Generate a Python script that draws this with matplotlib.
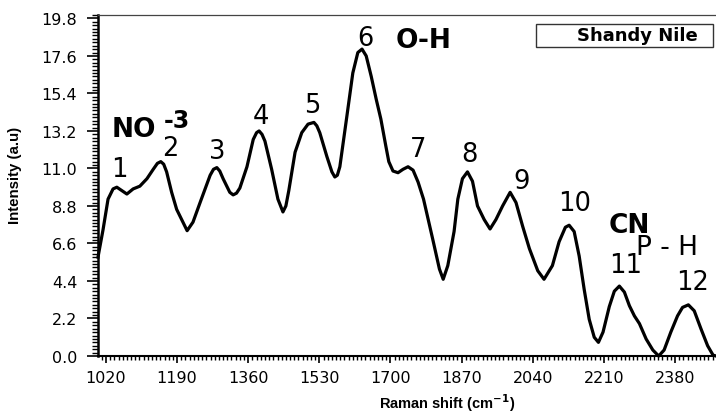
import matplotlib
matplotlib.use("Agg")
import matplotlib.pyplot as plt
from matplotlib.ticker import MultipleLocator, FixedLocator
from matplotlib.patches import Rectangle

# Raman spectrum
shift = [1001, 1013, 1025, 1030, 1037, 1046, 1058, 1070, 1085, 1101, 1118, 1133, 1143, 1151,
         1158, 1165, 1177, 1189, 1201, 1214, 1228, 1245, 1257, 1269, 1277, 1285, 1292, 1300,
         1316, 1324, 1332, 1340, 1357, 1372, 1380, 1386, 1393, 1400, 1416, 1431, 1443, 1450,
         1457, 1472, 1488, 1503, 1517, 1524, 1531, 1548, 1560, 1567, 1573, 1579, 1596, 1610,
         1622, 1632, 1642, 1654, 1666, 1677, 1689, 1696, 1706, 1718, 1730, 1742, 1754, 1766,
         1779, 1801, 1817, 1826, 1837, 1852, 1861, 1872, 1884, 1896, 1908, 1924, 1938, 1952,
         1968, 1986, 2000, 2016, 2032, 2052, 2067, 2087, 2103, 2118, 2127, 2139, 2151, 2163,
         2175, 2187, 2197, 2208, 2223, 2235, 2247, 2259, 2271, 2283, 2295, 2311, 2327, 2341,
         2354, 2370, 2386, 2398, 2412, 2426, 2442, 2458, 2471, 2478]
intensity = [5.8, 7.4, 9.2, 9.45, 9.8, 9.9, 9.7, 9.5, 9.8, 9.96, 10.4, 10.95, 11.3, 11.4,
             11.25, 10.8, 9.6, 8.6, 8.0, 7.35, 7.85, 9.0, 9.8, 10.6, 10.95, 11.05, 10.85, 10.4,
             9.6, 9.45, 9.55, 9.85, 11.1, 12.7, 13.1, 13.2, 13.0, 12.6, 10.95, 9.2, 8.45, 8.8,
             9.7, 11.95, 13.1, 13.6, 13.7, 13.5, 13.1, 11.7, 10.8, 10.5, 10.6, 11.1, 14.1, 16.6,
             17.8, 18.0, 17.6, 16.4, 15.05, 13.9, 12.3, 11.4, 10.85, 10.75, 10.95, 11.1, 10.9, 10.2,
             9.2, 6.85, 5.1, 4.5, 5.3, 7.3, 9.2, 10.4, 10.8, 10.25, 8.8, 8.0, 7.45, 8.0,
             8.8, 9.6, 9.0, 7.6, 6.3, 5.0, 4.5, 5.3, 6.7, 7.55, 7.67, 7.3, 5.86, 3.9,
             2.15, 1.1, 0.8, 1.4, 2.9, 3.8, 4.1, 3.75, 2.95, 2.35, 1.9, 1.0, 0.35, 0.0,
             0.35, 1.4, 2.35, 2.85, 3.0, 2.65, 1.6, 0.6, 0.05, 0.0]

peak_labels = ["1", "2", "3", "4", "5", "6", "7", "8", "9", "10", "11", "12"]
peak_x = [1051, 1173, 1285, 1390, 1512, 1641, 1766, 1888, 2014, 2139, 2263, 2423]
peak_y = [10.57, 11.8, 11.63, 13.68, 14.32, 18.25, 11.75, 11.45, 9.87, 8.55, 4.95, 3.92]

group_labels = ["NO", "O-H", "CN"]
group_x = [1087, 1780, 2272]
group_y = [12.89, 18.1, 7.26]

xticks = [1020, 1190, 1360, 1530, 1700, 1870, 2040, 2210, 2380]
yticks = [0.0, 2.2, 4.4, 6.6, 8.8, 11.0, 13.2, 15.4, 17.6, 19.8]
legend_label = "Shandy Nile"

fig = plt.figure(figsize=(7.16, 4.14), dpi=100)
ax = fig.add_axes([98/716, 1 - 357/414, 1 - 98/716, (357 - 16)/414])

ax.plot(shift, intensity, color="black", lw=2.3, solid_joinstyle="round", clip_on=False)

ax.set_xlim(1001, 2478)
ax.set_ylim(0, 20)
ax.xaxis.set_major_locator(FixedLocator(xticks))
ax.xaxis.set_minor_locator(MultipleLocator(10))
ax.yaxis.set_major_locator(FixedLocator(yticks))
ax.yaxis.set_minor_locator(MultipleLocator(0.2))
ax.set_xticklabels([str(t) for t in xticks])
ax.set_yticklabels([f"{t:.1f}" for t in yticks])
ax.tick_params(axis="both", which="major", direction="out", labelsize=11.5, width=1.2)
ax.tick_params(axis="x", which="major", length=5, pad=5)
ax.tick_params(axis="y", which="major", length=8, pad=7)
ax.tick_params(axis="x", which="minor", direction="out", length=3, width=1.0)
ax.tick_params(axis="y", which="minor", direction="out", length=4, width=1.0)

ax.spines["right"].set_visible(False)
ax.spines["left"].set_linewidth(1.8)
ax.spines["bottom"].set_linewidth(1.5)
ax.spines["top"].set_linewidth(0.9)
ax.spines["top"].set_color("#444444")

for lab, x, y in zip(peak_labels, peak_x, peak_y):
    ax.text(x, y, lab, fontsize=18.5, ha="center", va="baseline")

for lab, x, y in zip(group_labels, group_x, group_y):
    ax.text(x, y, lab, fontsize=19, fontweight="bold", ha="center", va="baseline")
ax.text(1190, 13.42, "-3", fontsize=17, fontweight="bold", ha="center", va="baseline")
ax.text(2361, 5.98, "P - H", fontsize=19, ha="center", va="baseline")

# legend box
lx0 = (536 - 98) / 618
lx1 = (713 - 98) / 618
ly0 = (357 - 48) / 341
ly1 = (357 - 25) / 341
ax.add_patch(Rectangle((lx0, ly0), lx1 - lx0, ly1 - ly0, transform=ax.transAxes,
                       facecolor="white", edgecolor="#333333", lw=1.0, clip_on=False, zorder=5))
ax.text((698 - 98) / 618, (ly0 + ly1) / 2, legend_label, transform=ax.transAxes,
        fontsize=13, fontweight="bold", ha="right", va="center", zorder=6)

ax.set_xlabel("Raman shift (cm$^{\\mathbf{-1}}$)", fontsize=10.5, fontweight="bold",
              family=["Liberation Sans", "DejaVu Sans"])
ax.xaxis.label.set_va("baseline")
ax.xaxis.set_label_coords((447 - 98) / 618, (357 - 409) / 341)
ax.set_ylabel("Intensity (a.u)", fontsize=10.8, fontweight="bold",
              family=["Liberation Sans Narrow", "DejaVu Sans Condensed", "Liberation Sans"])
ax.yaxis.set_label_coords((22 - 98) / 618, (357 - 175) / 341)

fig.savefig("out.png", dpi=100)
